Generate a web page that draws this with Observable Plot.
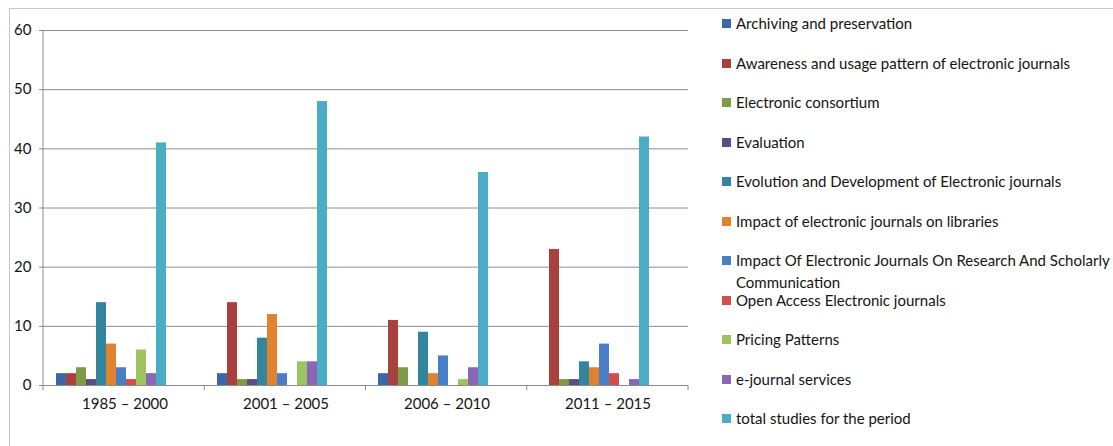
<!DOCTYPE html>
<html>
<head>
<meta charset="utf-8">
<script src="https://cdn.jsdelivr.net/npm/d3@7"></script>
<script src="https://cdn.jsdelivr.net/npm/@observablehq/plot@0.6"></script>
<style>
  body { margin: 0; background: #fff; font-family: Lato, "Liberation Sans", sans-serif; }
  #wrap { position: relative; width: 1113px; height: 446px; overflow: hidden; }
  #frame { position: absolute; left: 9px; top: 8px; width: 1200px; height: 500px;
           border-left: 1px solid #c6c6c6; border-top: 1px solid #c6c6c6; }
  #chart { position: absolute; left: 0; top: 0; }
  #legend { position: absolute; left: 722px; top: 0; font-size: 15px; color: #141414; }
  .item { position: absolute; left: 0; width: 400px; line-height: 22px; }
  .sw { position: absolute; left: 0; top: 7px; width: 9px; height: 9px; }
  .lab { margin-left: 14px; display: block; }
</style>
</head>
<body>
<div id="wrap">
  <div id="frame"></div>
  <div id="chart"></div>
  <div id="legend"></div>
</div>
<script>
// Publication periods (x groups)
const periods = ["1985 – 2000", "2001 – 2005", "2006 – 2010", "2011 – 2015"];

// Research themes (series)
const themes = [
  "Archiving and preservation",
  "Awareness and usage pattern of electronic journals",
  "Electronic consortium",
  "Evaluation",
  "Evolution and Development of Electronic journals",
  "Impact of electronic journals on libraries",
  "Impact Of Electronic Journals On Research And Scholarly Communication",
  "Open Access Electronic journals",
  "Pricing Patterns",
  "e-journal services",
  "total studies for the period"
];

// Number of studies per theme, one array per period
const studies1985 = [2, 2, 3, 1, 14, 7, 3, 1, 6, 2, 41];
const studies2001 = [2, 14, 1, 1, 8, 12, 2, 0, 4, 4, 48];
const studies2006 = [2, 11, 3, 0, 9, 2, 5, 0, 1, 3, 36];
const studies2011 = [0, 23, 1, 1, 4, 3, 7, 2, 0, 1, 42];

const themeColors = [
  "#3c67a6", "#a8403c", "#7e9b47", "#5e4a85", "#31859c", "#e0822e",
  "#4a7ec8", "#d04f4a", "#9dc45e", "#8a66b5", "#4bacc6"
];

const yTicks = [0, 10, 20, 30, 40, 50, 60];

const byPeriod = [studies1985, studies2001, studies2006, studies2011];
const rows = periods.flatMap((p, i) =>
  themes.map((t, j) => ({ period: p, theme: t, value: byPeriod[i][j] }))
);

const grey = "#8c8c8c";

const chart = Plot.plot({
  width: 700,
  height: 446,
  marginLeft: 43,
  marginRight: 12,
  marginTop: 30,
  marginBottom: 61,
  style: { fontFamily: "Lato, 'Liberation Sans', sans-serif", fontSize: "15px", color: "#141414", background: "transparent" },
  facet: { data: rows, x: "period" },
  fx: { domain: periods, padding: 0, label: null, axis: "bottom", tickSize: 0, tickPadding: 13 },
  x: { domain: themes, axis: null, paddingInner: 0, paddingOuter: 1.83, align: 0.24 },
  y: { domain: [0, 60], ticks: yTicks, label: null, tickSize: 5, tickPadding: 8 },
  color: { domain: themes, range: themeColors },
  marks: [
    Plot.ruleY(yTicks, { stroke: grey, strokeWidth: 1 }),
    Plot.barY(rows, { x: "theme", y: "value", fill: "theme", inset: 0 })
  ]
});

const svg = d3.select(chart);
// grey axis tick marks
svg.selectAll('g[aria-label^="y-axis"] line, g[aria-label^="y-axis"] path').attr("stroke", grey);

// vertical axis line and category boundary ticks, placed from the scales
const fx = chart.scale("fx");
const y = chart.scale("y");
const y0 = y.range[0];
const y1 = y.range[1];
const left = fx.range[0];
const step = (fx.range[1] - fx.range[0]) / periods.length;
svg.append("line")
  .attr("x1", left).attr("x2", left).attr("y1", y1).attr("y2", y0 + 5)
  .attr("stroke", grey);
for (let i = 1; i <= periods.length; i++) {
  const xb = left + i * step;
  svg.append("line")
    .attr("x1", xb).attr("x2", xb).attr("y1", y0).attr("y2", y0 + 5)
    .attr("stroke", grey);
}

document.getElementById("chart").appendChild(chart);

// legend
const legend = d3.select("#legend");
themes.forEach((t, i) => {
  const item = legend.append("div").attr("class", "item").style("top", (12 + i * 39.5) + "px");
  item.append("span").attr("class", "sw").style("background", themeColors[i]);
  item.append("span").attr("class", "lab").text(t);
});
</script>
</body>
</html>
